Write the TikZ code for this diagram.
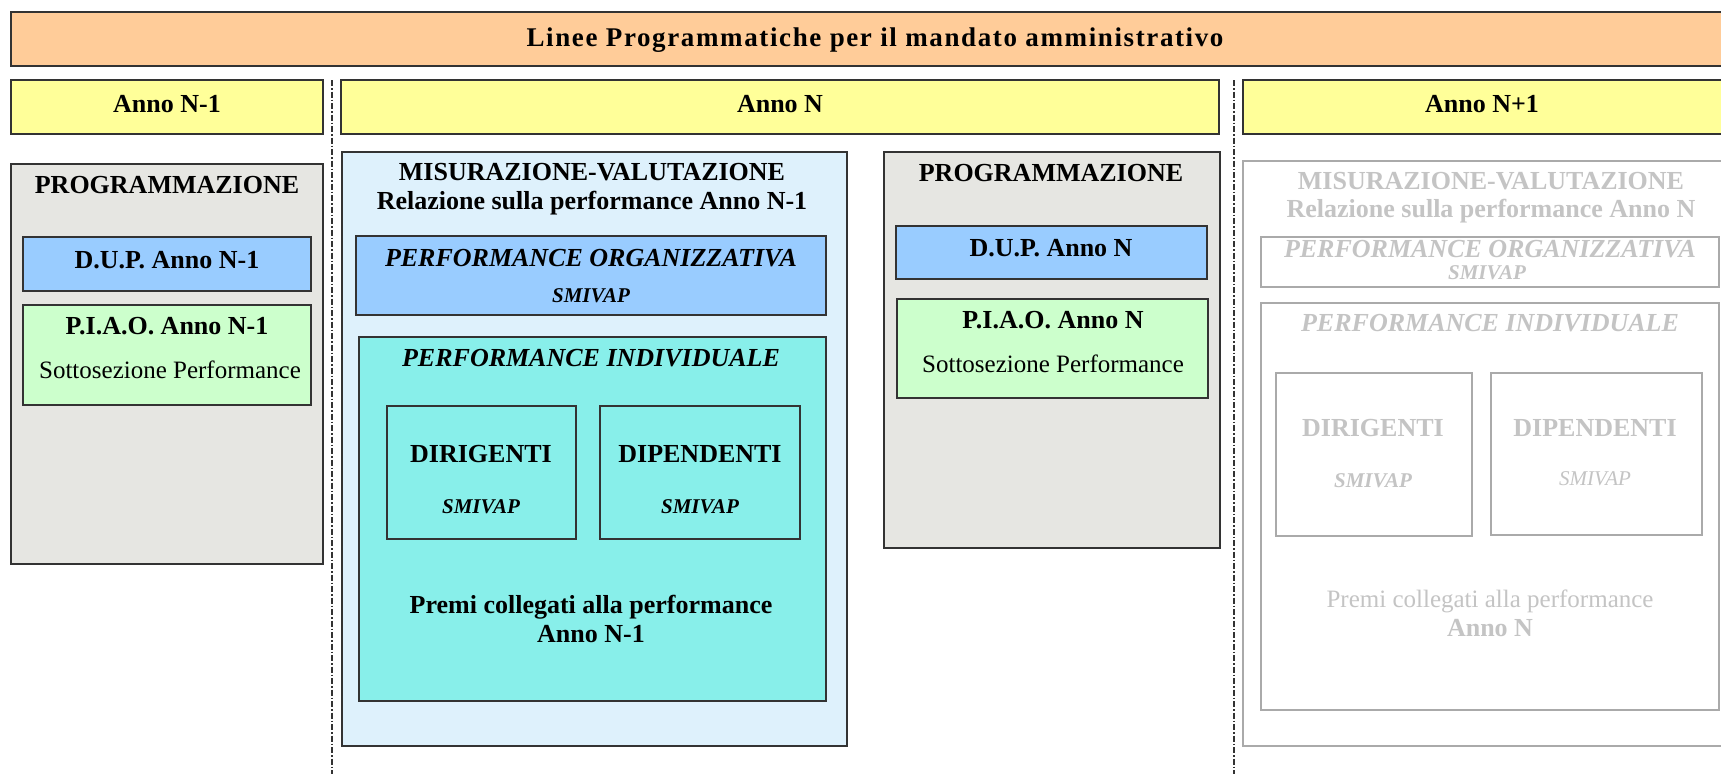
\documentclass[tikz,border=0pt]{standalone}
\usepackage{fontspec}
\setmainfont{Liberation Serif}
\newfontfamily\titlefont[LetterSpace=6]{Liberation Serif}
\definecolor{peach}{HTML}{FFCC99}
\definecolor{annoy}{HTML}{FFFF99}
\definecolor{progg}{HTML}{E6E6E2}
\definecolor{dupb}{HTML}{99CCFF}
\definecolor{piaog}{HTML}{CCFFCC}
\definecolor{misb}{HTML}{DEF1FC}
\definecolor{teal}{HTML}{88EFEA}
\definecolor{bord}{HTML}{333333}
\definecolor{gbord}{HTML}{AAAAAA}
\definecolor{gtxt}{HTML}{C4C4C4}
\newcommand\bx[6]{\node[box,#6,minimum width={(#4-#2)*1pt},minimum height={(#5-#3)*1pt}] (#1) at (#2,#3) {};}
\newcommand\tx[5]{\node[txt,#1] (#2) at (#3,#4) {#5};}
\begin{document}
\begin{tikzpicture}[x=1pt,y=-1pt,
  box/.style={draw=bord,line width=1.4pt,inner sep=0pt,outer sep=0pt,anchor=north west},
  gbox/.style={draw=gbord,line width=1.4pt,fill=white},
  txt/.style={anchor=base,inner sep=0pt},
  hb/.style={font=\fontsize{26}{30}\selectfont\bfseries},
  hr/.style={font=\fontsize{25}{30}\selectfont},
  hi/.style={font=\fontsize{26}{30}\selectfont\bfseries\itshape},
  sm/.style={font=\fontsize{21}{25}\selectfont\bfseries\itshape},
  smr/.style={font=\fontsize{21}{25}\selectfont\itshape},
  gr/.style={text=gtxt},
  sep/.style={draw=bord,line width=1.2pt,dash pattern=on 6pt off 2pt on 1.5pt off 2pt}]
\clip (0,0) rectangle (1721,774);
\fill[white] (0,0) rectangle (1721,774);
% top bars
\bx{title}{11}{12}{1745}{66}{fill=peach}
\bx{annoA}{11}{80}{323}{134}{fill=annoy}
\bx{annoB}{341}{80}{1219}{134}{fill=annoy}
\bx{annoC}{1243}{80}{1745}{134}{fill=annoy}
\node[txt,font=\fontsize{27}{30}\selectfont\titlefont\bfseries] (titlet) at (875,46) {Linee Programmatiche per il mandato amministrativo};
\tx{hb}{annoAt}{167}{112}{Anno N-1}
\tx{hb}{annoBt}{780}{112}{Anno N}
\tx{hb}{annoCt}{1482}{112}{Anno N+1}
% separators
\coordinate (s1t) at (332,80); \coordinate (s1b) at (332,774);
\coordinate (s2t) at (1234,80); \coordinate (s2b) at (1234,774);
\draw[sep] (s1t) -- (s1b);
\draw[sep] (s2t) -- (s2b);
% Anno N-1 programmazione
\bx{progA}{11}{164}{323}{564}{fill=progg}
\tx{hb}{progAt}{167}{193}{PROGRAMMAZIONE}
\bx{dupA}{23}{237}{311}{291}{fill=dupb}
\tx{hb}{dupAt}{167}{268}{D.U.P. Anno N-1}
\bx{piaoA}{23}{305}{311}{405}{fill=piaog}
\tx{hb}{piaoAt}{167}{334}{P.I.A.O. Anno N-1}
\tx{hr}{piaoAs}{170}{378}{Sottosezione Performance}
% Anno N misurazione
\bx{misB}{342}{152}{847}{746}{fill=misb}
\tx{hb}{misBt}{592}{180}{MISURAZIONE-VALUTAZIONE}
\tx{hb}{misBs}{592}{209}{Relazione sulla performance Anno N-1}
\bx{porgB}{356}{236}{826}{315}{fill=dupb}
\tx{hi}{porgBt}{591}{266}{PERFORMANCE ORGANIZZATIVA}
\tx{sm}{porgBs}{591}{302}{SMIVAP}
\bx{pindB}{359}{337}{826}{701}{fill=teal}
\tx{hi}{pindBt}{591}{366}{PERFORMANCE INDIVIDUALE}
\bx{dirB}{387}{406}{576}{539}{fill=teal}
\tx{hb}{dirBt}{481}{462}{DIRIGENTI}
\tx{sm}{dirBs}{481}{513}{SMIVAP}
\bx{dipB}{600}{406}{800}{539}{fill=teal}
\tx{hb}{dipBt}{700}{462}{DIPENDENTI}
\tx{sm}{dipBs}{700}{513}{SMIVAP}
\tx{hb}{premBa}{591}{613}{Premi collegati alla performance}
\tx{hb}{premBb}{591}{642}{Anno N-1}
% Anno N programmazione
\bx{progB}{884}{152}{1220}{548}{fill=progg}
\tx{hb}{progBt}{1051}{181}{PROGRAMMAZIONE}
\bx{dupB}{896}{226}{1207}{279}{fill=dupb}
\tx{hb}{dupBt}{1051}{256}{D.U.P. Anno N}
\bx{piaoB}{897}{299}{1208}{398}{fill=piaog}
\tx{hb}{piaoBt}{1053}{328}{P.I.A.O. Anno N}
\tx{hr}{piaoBs}{1053}{372}{Sottosezione Performance}
% Anno N+1 (greyed)
\bx{misC}{1243}{161}{1745}{746}{gbox}
\tx{hb,gr}{misCt}{1491}{189}{MISURAZIONE-VALUTAZIONE}
\tx{hb,gr}{misCs}{1491}{217}{Relazione sulla performance Anno N}
\bx{porgC}{1261}{237}{1719}{287}{gbox}
\tx{hi,gr}{porgCt}{1490}{257}{PERFORMANCE ORGANIZZATIVA}
\tx{sm,gr}{porgCs}{1487}{279}{SMIVAP}
\bx{pindC}{1261}{303}{1719}{710}{gbox}
\tx{hi,gr}{pindCt}{1490}{331}{PERFORMANCE INDIVIDUALE}
\bx{dirC}{1276}{373}{1472}{536}{gbox}
\tx{hb,gr}{dirCt}{1373}{436}{DIRIGENTI}
\tx{sm,gr}{dirCs}{1373}{487}{SMIVAP}
\bx{dipC}{1491}{373}{1702}{535}{gbox}
\tx{hb,gr}{dipCt}{1595}{436}{DIPENDENTI}
\tx{smr,gr}{dipCs}{1595}{485}{SMIVAP}
\tx{hr,gr}{premCa}{1490}{607}{Premi collegati alla performance}
\tx{hb,gr}{premCb}{1490}{636}{Anno N}
\end{tikzpicture}
\end{document}
